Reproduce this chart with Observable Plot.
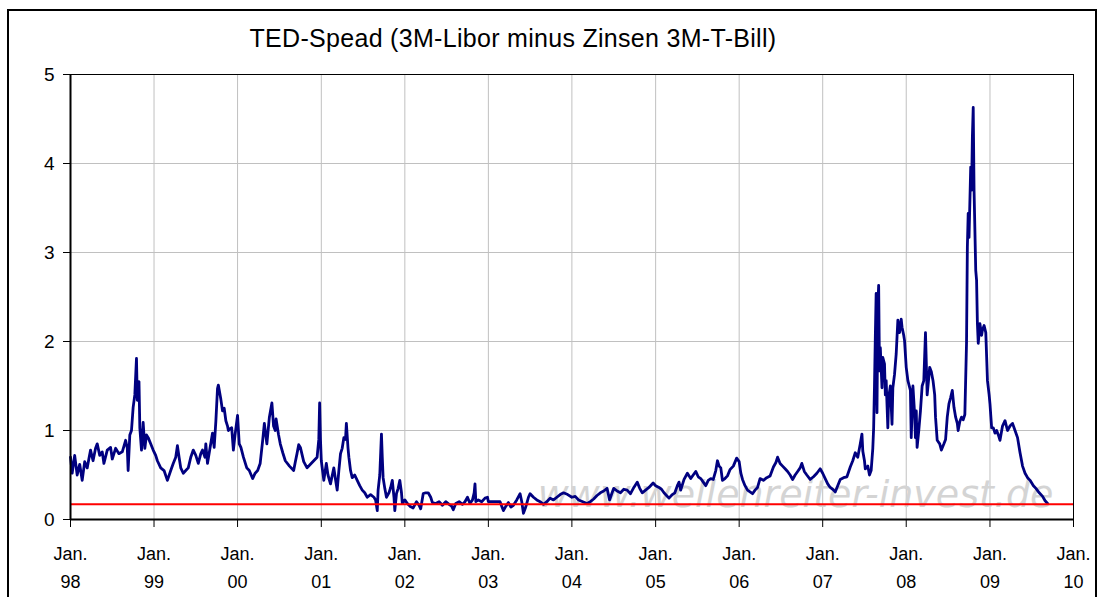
<!DOCTYPE html>
<html><head><meta charset="utf-8">
<script src="https://cdn.jsdelivr.net/npm/d3@7"></script>
<script src="https://cdn.jsdelivr.net/npm/@observablehq/plot@0.6"></script>
<style>
html,body{margin:0;padding:0;background:#fff;width:1102px;height:597px;overflow:hidden;font-family:"Liberation Sans",Arial,sans-serif;}
#frame{position:absolute;left:7px;top:9px;width:1090px;height:640px;border:2px solid #000;box-sizing:border-box;}
#title{position:absolute;left:0;width:1026px;top:24px;text-align:center;font-size:25px;letter-spacing:0.3px;color:#000;z-index:2;}
#chart{position:absolute;left:0;top:0;z-index:1;}
</style></head><body>
<div id="frame"></div>
<div id="chart"></div>
<div id="title"></div>
<script>
const chartTitle = "TED-Spead (3M-Libor minus Zinsen 3M-T-Bill)";
const watermark = "www.wellenreiter-invest.de";
const yTicks = [0, 1, 2, 3, 4, 5];
const tickYears = [1998,1999,2000,2001,2002,2003,2004,2005,2006,2007,2008,2009,2010];
const redLevel = 0.17;

// decimal year, TED spread (percentage points)
const years = [
1998.00,1998.02,1998.05,1998.08,1998.11,1998.14,1998.17,1998.20,1998.24,1998.27,1998.30,1998.32,1998.35,1998.38,1998.40,1998.44,1998.48,1998.50,1998.54,1998.58,
1998.62,1998.66,1998.68,1998.69,1998.71,1998.73,1998.75,1998.77,1998.79,1998.80,1998.82,1998.83,1998.85,1998.87,1998.89,1998.91,1998.93,1998.96,1998.99,
1999.02,1999.04,1999.08,1999.12,1999.16,1999.20,1999.23,1999.26,1999.28,1999.30,1999.32,1999.35,1999.38,1999.41,1999.44,1999.47,1999.50,1999.53,1999.56,1999.58,
1999.61,1999.62,1999.64,1999.67,1999.70,1999.72,1999.74,1999.76,1999.77,1999.80,1999.82,1999.84,1999.86,1999.88,1999.89,1999.91,1999.93,1999.95,1999.97,
2000.00,2000.02,2000.04,2000.07,2000.11,2000.14,2000.18,2000.21,2000.24,2000.27,2000.30,2000.32,2000.35,2000.38,2000.41,2000.43,2000.45,2000.46,2000.49,2000.51,
2000.54,2000.57,2000.62,2000.67,2000.69,2000.71,2000.73,2000.75,2000.79,2000.83,2000.87,2000.91,2000.95,2000.97,2000.98,2000.99,
2001.00,2001.03,2001.06,2001.08,2001.11,2001.15,2001.17,2001.19,2001.21,2001.23,2001.25,2001.27,2001.29,2001.30,2001.32,2001.33,2001.35,2001.37,2001.40,2001.43,
2001.46,2001.49,2001.52,2001.55,2001.59,2001.63,2001.65,2001.67,2001.68,2001.70,2001.72,2001.73,2001.74,2001.76,2001.78,2001.81,2001.83,2001.85,2001.87,2001.88,
2001.90,2001.92,2001.94,2001.96,2001.97,
2002.00,2002.03,2002.06,2002.10,2002.14,2002.17,2002.19,2002.22,2002.25,2002.28,2002.31,2002.33,2002.37,2002.41,2002.45,2002.49,2002.53,2002.56,2002.58,2002.61,
2002.65,2002.69,2002.72,2002.75,2002.78,2002.81,2002.83,2002.84,2002.85,2002.88,2002.92,2002.96,2002.99,
2003.00,2003.05,2003.10,2003.14,2003.16,2003.18,2003.21,2003.24,2003.27,2003.30,2003.34,2003.38,2003.40,2003.42,2003.44,2003.46,2003.48,2003.50,2003.54,2003.58,
2003.62,2003.66,2003.70,2003.74,2003.78,2003.82,2003.86,2003.90,2003.95,
2004.00,2004.04,2004.08,2004.13,2004.18,2004.22,2004.26,2004.30,2004.34,2004.38,2004.42,2004.45,2004.48,2004.50,2004.54,2004.58,2004.62,2004.66,2004.70,2004.74,
2004.78,2004.81,2004.84,2004.88,2004.92,2004.97,
2005.00,2005.04,2005.07,2005.10,2005.13,2005.16,2005.20,2005.23,2005.26,2005.28,2005.30,2005.34,2005.38,2005.42,2005.45,2005.48,2005.51,2005.54,2005.57,2005.60,
2005.63,2005.66,2005.69,2005.72,2005.74,2005.76,2005.78,2005.80,2005.83,2005.86,2005.89,2005.93,2005.97,
2006.00,2006.02,2006.04,2006.07,2006.10,2006.13,2006.16,2006.19,2006.22,2006.25,2006.29,2006.33,2006.37,2006.41,2006.44,2006.46,2006.49,2006.52,2006.55,2006.58,
2006.61,2006.64,2006.67,2006.70,2006.73,2006.75,2006.78,2006.81,2006.85,2006.89,2006.93,2006.97,
2007.00,2007.03,2007.06,2007.09,2007.12,2007.15,2007.18,2007.21,2007.25,2007.29,2007.33,2007.36,2007.39,2007.42,2007.45,2007.47,2007.48,2007.50,2007.51,2007.54,
2007.56,2007.58,2007.60,2007.61,2007.62,2007.63,2007.64,2007.65,2007.66,2007.67,2007.68,2007.69,2007.71,2007.72,2007.74,2007.75,2007.76,2007.78,2007.79,2007.81,
2007.83,2007.84,2007.86,2007.88,2007.89,2007.90,2007.92,2007.94,2007.95,2007.97,2007.98,
2008.00,2008.02,2008.05,2008.06,2008.08,2008.10,2008.11,2008.12,2008.13,2008.15,2008.17,2008.19,2008.21,2008.23,2008.25,2008.27,2008.28,2008.30,2008.32,2008.34,
2008.35,2008.37,2008.40,2008.42,2008.45,2008.47,2008.49,2008.51,2008.53,2008.55,2008.57,2008.59,2008.61,2008.62,2008.64,2008.66,2008.68,2008.70,2008.72,2008.73,
2008.74,2008.75,2008.77,2008.78,2008.79,2008.80,2008.81,2008.83,2008.84,2008.85,2008.86,2008.88,2008.90,2008.91,2008.93,2008.95,2008.97,2008.99,
2009.00,2009.02,2009.04,2009.06,2009.08,2009.10,2009.12,2009.15,2009.18,2009.21,2009.24,2009.27,2009.30,2009.33,2009.36,2009.39,2009.42,2009.45,2009.48,2009.52,
2009.55,2009.59,2009.63,2009.66,2009.69
];
const values = [
0.70,0.52,0.72,0.50,0.62,0.44,0.65,0.58,0.78,0.66,0.80,0.85,0.72,0.76,0.63,0.78,0.81,0.68,0.80,0.74,
0.76,0.89,0.80,0.55,0.95,1.00,1.26,1.40,1.81,1.34,1.55,1.03,0.78,1.09,0.80,0.95,0.92,0.85,0.78,
0.72,0.66,0.58,0.55,0.44,0.55,0.63,0.70,0.83,0.70,0.58,0.52,0.55,0.58,0.70,0.78,0.72,0.63,0.74,0.78,
0.70,0.85,0.63,0.80,0.97,0.81,1.10,1.47,1.51,1.35,1.22,1.25,1.11,1.05,1.00,1.02,1.03,0.78,0.95,
1.17,0.85,0.81,0.70,0.58,0.55,0.46,0.52,0.55,0.63,0.89,1.08,0.85,1.15,1.31,1.05,1.00,1.13,0.95,0.85,
0.75,0.66,0.60,0.55,0.65,0.74,0.84,0.81,0.65,0.58,0.62,0.66,0.70,0.90,1.31,0.90,
0.66,0.44,0.63,0.50,0.40,0.58,0.45,0.33,0.55,0.74,0.80,0.92,0.90,1.08,0.80,0.70,0.55,0.47,0.50,0.44,
0.38,0.33,0.30,0.25,0.28,0.25,0.22,0.10,0.33,0.50,0.96,0.70,0.47,0.35,0.25,0.30,0.36,0.44,0.25,0.10,
0.29,0.35,0.44,0.30,0.18,
0.22,0.18,0.15,0.13,0.20,0.16,0.12,0.29,0.30,0.30,0.25,0.19,0.18,0.20,0.16,0.20,0.17,0.15,0.11,0.18,
0.20,0.17,0.20,0.25,0.18,0.22,0.30,0.40,0.20,0.22,0.20,0.24,0.25,
0.20,0.20,0.20,0.20,0.15,0.10,0.15,0.19,0.14,0.16,0.22,0.29,0.20,0.07,0.12,0.18,0.25,0.29,0.25,0.22,
0.20,0.17,0.20,0.24,0.22,0.25,0.28,0.30,0.28,
0.25,0.26,0.22,0.20,0.18,0.20,0.23,0.27,0.30,0.32,0.35,0.22,0.30,0.35,0.32,0.30,0.34,0.33,0.29,0.36,
0.42,0.35,0.30,0.33,0.36,0.41,
0.38,0.36,0.34,0.30,0.27,0.24,0.28,0.30,0.38,0.42,0.33,0.45,0.52,0.46,0.50,0.54,0.48,0.46,0.42,0.38,
0.44,0.46,0.45,0.55,0.66,0.60,0.58,0.44,0.46,0.49,0.56,0.60,0.69,
0.65,0.52,0.45,0.38,0.33,0.31,0.29,0.33,0.36,0.46,0.44,0.47,0.49,0.59,0.64,0.70,0.63,0.60,0.57,0.54,
0.50,0.45,0.50,0.54,0.58,0.63,0.54,0.50,0.45,0.48,0.52,0.57,
0.52,0.46,0.40,0.36,0.34,0.31,0.38,0.45,0.47,0.48,0.59,0.66,0.75,0.70,0.85,0.96,0.77,0.66,0.57,0.60,
0.50,0.55,0.80,1.03,1.50,2.05,2.54,1.20,2.40,2.63,1.67,1.93,1.48,1.82,1.75,1.40,1.56,1.03,1.37,1.50,
1.07,1.48,1.63,1.86,2.05,2.24,2.10,2.25,2.16,2.07,2.01,
1.71,1.56,1.45,0.92,1.50,1.19,0.92,1.22,0.81,1.00,1.22,1.50,1.56,2.10,1.40,1.60,1.71,1.66,1.56,1.40,
1.15,0.89,0.85,0.78,0.85,0.90,1.15,1.30,1.37,1.45,1.26,1.15,1.08,1.00,1.10,1.15,1.12,1.18,1.98,3.06,
3.44,3.17,3.96,3.70,4.30,4.63,3.70,2.80,2.69,2.20,1.98,2.20,2.07,2.13,2.18,2.10,1.56,1.40,
1.30,1.03,1.03,0.97,1.00,0.95,0.89,1.05,1.11,1.00,1.05,1.08,1.00,0.92,0.75,0.60,0.52,0.47,0.44,0.38,
0.35,0.30,0.26,0.21,0.18
];

function yearToDate(y) {
  const yr = Math.floor(y + 1e-9);
  const s = Date.UTC(yr, 0, 1), e = Date.UTC(yr + 1, 0, 1);
  return new Date(s + (y - yr) * (e - s));
}
const data = years.map((y, i) => ({date: yearToDate(y), value: values[i]}));
const tickDates = tickYears.map(y => new Date(Date.UTC(y, 0, 1)));
const fmtYY = d3.utcFormat("%y");

document.getElementById("title").textContent = chartTitle;

const chart = Plot.plot({
  width: 1102,
  height: 597,
  marginLeft: 70,
  marginRight: 29,
  marginTop: 74,
  marginBottom: 78,
  style: {background: "transparent", fontFamily: "'Liberation Sans', Arial, sans-serif", color: "#000"},
  x: {type: "utc", domain: [tickDates[0], tickDates[tickDates.length - 1]]},
  y: {domain: [0, 5]},
  marks: [
    Plot.gridX(tickDates, {stroke: "#c0c0c0", strokeOpacity: 1, strokeWidth: 1}),
    Plot.gridY(yTicks, {stroke: "#c0c0c0", strokeOpacity: 1, strokeWidth: 1}),
    Plot.frame({stroke: "#000", strokeWidth: 1}),
    Plot.text([watermark], {frameAnchor: "bottom-right", textAnchor: "end", lineAnchor: "bottom", dx: -20, dy: -13,
      fontSize: 38, fontStyle: "italic", fontFamily: "'DejaVu Sans', Verdana, sans-serif", fill: "#d4d4d4"}),
    Plot.line(data, {x: "date", y: "value", stroke: "#000080", strokeWidth: 2.8, strokeLinejoin: "round"}),
    Plot.ruleY([redLevel], {stroke: "#ff0000", strokeWidth: 2}),
    Plot.axisY(yTicks, {tickSize: 7, tickPadding: 9, fontSize: 19, label: null, stroke: "#000", tickFormat: d => String(d)}),
    Plot.axisX(tickDates, {tickSize: 8, tickPadding: 13, fontSize: 18, lineHeight: 1.55, label: null, stroke: "#000",
      tickFormat: d => "Jan.\n" + fmtYY(d)}),
    Plot.ruleX([tickDates[0]], {stroke: "#000", strokeWidth: 2}),
    Plot.ruleY([0], {stroke: "#000", strokeWidth: 2})
  ]
});
document.getElementById("chart").appendChild(chart);
</script>
</body></html>
